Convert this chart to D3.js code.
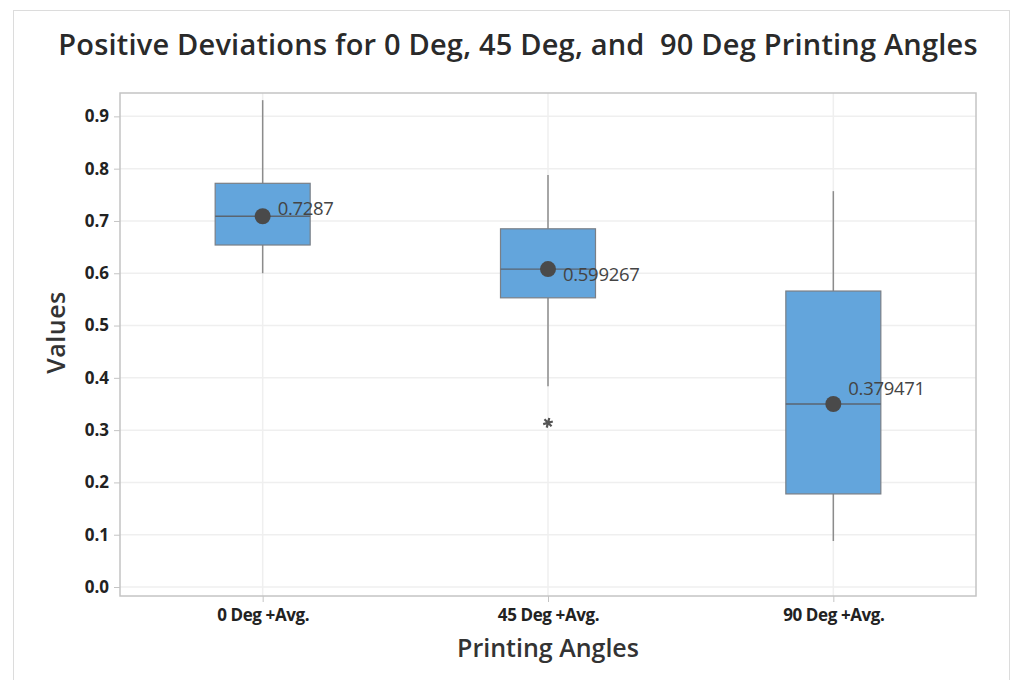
<!DOCTYPE html>
<html>
<head>
<meta charset="utf-8">
<script src="https://cdn.jsdelivr.net/npm/d3@7"></script>
<style>
  body { margin: 0; background: #fff; }
  svg { font-family: "Open Sans", "Noto Sans", sans-serif; }
</style>
</head>
<body>
<div id="chart"></div>
<script>
// data
var categories = ['0 Deg +Avg.', '45 Deg +Avg.', '90 Deg +Avg.'];
var whiskerLow  = [0.600, 0.384, 0.088];
var q1          = [0.654, 0.553, 0.178];
var median      = [0.709, 0.608, 0.350];
var q3          = [0.772, 0.685, 0.566];
var whiskerHigh = [0.931, 0.788, 0.757];
var meanDot     = [0.709, 0.608, 0.350];
var meanLabels  = ['0.7287', '0.599267', '0.379471'];
var outliers    = [[], [0.314], []];
var yTicks      = [0, 0.1, 0.2, 0.3, 0.4, 0.5, 0.6, 0.7, 0.8, 0.9];

var width = 1022, height = 680;
var margin = {top: 93, right: 46, bottom: 84, left: 120};
var innerW = width - margin.left - margin.right,
    innerH = height - margin.top - margin.bottom;

// label nudges so the numbers sit like in the original
var labelDy = [-8, 5, -15];

var svg = d3.select('#chart').append('svg')
    .attr('width', width)
    .attr('height', height);

// outer frame
svg.append('rect')
    .attr('x', 13.5).attr('y', 10.5)
    .attr('width', 996).attr('height', 680)
    .attr('fill', '#fff').attr('stroke', '#dcdcdc');

var x = d3.scalePoint().domain(categories).range([0, innerW]).padding(0.5);
var y = d3.scaleLinear().domain([-0.0172, 0.9447]).range([innerH, 0]);

var g = svg.append('g').attr('transform', 'translate(' + margin.left + ',' + margin.top + ')');

// gridlines
g.append('g').selectAll('line.h')
    .data(yTicks).enter().append('line')
    .attr('x1', 0).attr('x2', innerW)
    .attr('y1', function(d) { return y(d); })
    .attr('y2', function(d) { return y(d); })
    .attr('stroke', '#efefef').attr('stroke-width', 1.5);
g.append('g').selectAll('line.v')
    .data(categories).enter().append('line')
    .attr('y1', 0).attr('y2', innerH)
    .attr('x1', function(d) { return x(d); })
    .attr('x2', function(d) { return x(d); })
    .attr('stroke', '#efefef').attr('stroke-width', 1.5);

// frame
g.append('rect')
    .attr('width', innerW).attr('height', innerH)
    .attr('fill', 'none').attr('stroke', '#c4c4c4').attr('stroke-width', 1.5);

// axes
var yAxis = g.append('g')
    .call(d3.axisLeft(y).tickValues(yTicks).tickFormat(d3.format('.1f')).tickSize(6).tickSizeOuter(0));
var xAxis = g.append('g').attr('transform', 'translate(0,' + innerH + ')')
    .call(d3.axisBottom(x).tickSize(6).tickSizeOuter(0));
[yAxis, xAxis].forEach(function(a) {
    a.select('.domain').remove();
    a.selectAll('line').attr('stroke', '#c4c4c4');
    a.selectAll('text')
        .attr('fill', '#222')
        .style('font-family', '"Open Sans", sans-serif')
        .style('font-size', '17px')
        .style('font-weight', '700');
});
yAxis.selectAll('text').attr('x', -11);
xAxis.selectAll('text').attr('y', 13).style('letter-spacing', '-0.4px');

// boxes
var boxW = 95;
var boxes = g.append('g').selectAll('g')
    .data(categories).enter().append('g')
    .attr('transform', function(d) { return 'translate(' + x(d) + ',0)'; });

boxes.append('line')
    .attr('y1', function(d, i) { return y(whiskerHigh[i]); })
    .attr('y2', function(d, i) { return y(q3[i]); })
    .attr('stroke', '#8c8c8c').attr('stroke-width', 1.5);
boxes.append('line')
    .attr('y1', function(d, i) { return y(q1[i]); })
    .attr('y2', function(d, i) { return y(whiskerLow[i]); })
    .attr('stroke', '#8c8c8c').attr('stroke-width', 1.5);
boxes.append('rect')
    .attr('x', -boxW / 2).attr('width', boxW)
    .attr('y', function(d, i) { return y(q3[i]); })
    .attr('height', function(d, i) { return y(q1[i]) - y(q3[i]); })
    .attr('fill', '#63a5dc').attr('stroke', '#7a7f86').attr('stroke-width', 1.2);
boxes.append('line')
    .attr('x1', -boxW / 2).attr('x2', boxW / 2)
    .attr('y1', function(d, i) { return y(median[i]); })
    .attr('y2', function(d, i) { return y(median[i]); })
    .attr('stroke', '#5a6570').attr('stroke-width', 1.3);
boxes.append('circle')
    .attr('cy', function(d, i) { return y(meanDot[i]); })
    .attr('r', 8)
    .attr('fill', '#4a4a4a');
boxes.append('text')
    .attr('x', 15)
    .attr('y', function(d, i) { return y(meanDot[i]) + labelDy[i]; })
    .attr('dy', '0.35em')
    .attr('fill', '#444')
    .style('font-size', '18.5px')
    .style('letter-spacing', '-0.3px')
    .text(function(d, i) { return meanLabels[i]; });
boxes.selectAll('path.out')
    .data(function(d, i) { return outliers[i]; })
    .enter().append('path')
    .attr('class', 'out')
    .attr('transform', function(d) { return 'translate(0,' + y(d) + ') rotate(15)'; })
    .attr('d', d3.symbol(d3.symbolAsterisk, 70))
    .attr('fill', 'none')
    .attr('stroke', '#555')
    .attr('stroke-width', 2.2);

// titles
svg.append('text')
    .attr('x', 518).attr('y', 55)
    .attr('text-anchor', 'middle')
    .attr('fill', '#2a2a2a')
    .style('font-size', '29px')
    .style('font-weight', '600')
    .style('letter-spacing', '0.2px')
    .style('white-space', 'pre')
    .text('Positive Deviations for 0 Deg, 45 Deg, and  90 Deg Printing Angles');
svg.append('text')
    .attr('x', margin.left + innerW / 2).attr('y', 657)
    .attr('text-anchor', 'middle')
    .attr('fill', '#333')
    .style('font-size', '25px')
    .style('font-weight', '600')
    .text('Printing Angles');
svg.append('text')
    .attr('transform', 'translate(65,' + (margin.top + innerH / 2 - 12) + ') rotate(-90)')
    .attr('text-anchor', 'middle')
    .attr('fill', '#333')
    .style('font-size', '25px')
    .style('font-weight', '600')
    .style('letter-spacing', '0.5px')
    .text('Values');
</script>
</body>
</html>
